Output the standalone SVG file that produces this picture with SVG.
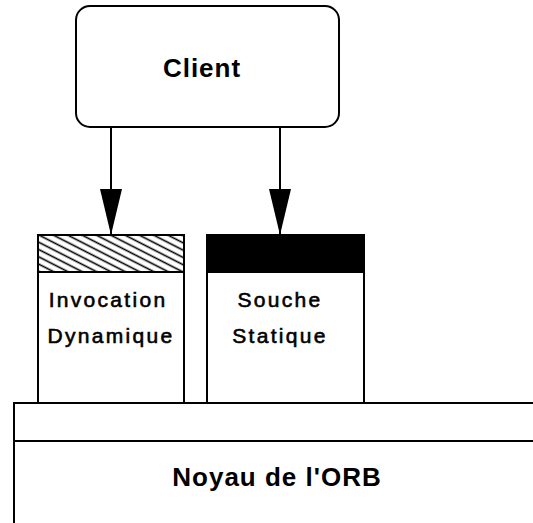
<svg xmlns="http://www.w3.org/2000/svg" width="533" height="523" viewBox="0 0 533 523">
  <style>
    .box { fill: #fff; stroke: #000; stroke-width: 2; }
    .lbl { font-family: "Liberation Sans", Arial, sans-serif; font-size: 21px; fill: #000; stroke: #000; stroke-width: 0.6px; text-anchor: middle; letter-spacing: 2.3px; }
    .title { font-family: "Liberation Sans", Arial, sans-serif; font-size: 26px; font-weight: bold; fill: #000; text-anchor: middle; letter-spacing: 1px; }
    .wire { stroke: #000; stroke-width: 2; fill: none; }
  </style>
  <defs>
    <!-- diagonal hatching for the dynamic invocation band -->
    <pattern id="hatch" patternUnits="userSpaceOnUse" width="20" height="6.5" patternTransform="rotate(27)">
      <line x1="0" y1="3.25" x2="20" y2="3.25" stroke="#000" stroke-width="1.6"/>
    </pattern>
    <marker id="arrow" markerUnits="userSpaceOnUse" markerWidth="48" markerHeight="24" refX="46" refY="12" orient="auto" viewBox="0 0 48 24">
      <path d="M0 1 L46 12 L0 23 Z" fill="#000"/>
    </marker>
  </defs>
  <rect width="533" height="523" fill="#fff"/>

  <g id="orb">
    <rect class="box" x="14" y="403" width="530" height="130"/>
    <line class="wire" x1="14" y1="441" x2="533" y2="441"/>
    <text class="title" x="277" y="486">Noyau de l'ORB</text>
  </g>

  <g id="invocation">
    <rect class="box" x="38" y="235" width="146" height="168"/>
    <rect x="38" y="235" width="146" height="37" fill="url(#hatch)" stroke="#000" stroke-width="2"/>
    <text class="lbl" x="108" y="307">Invocation</text>
    <text class="lbl" x="111" y="343">Dynamique</text>
  </g>

  <g id="souche">
    <rect class="box" x="207" y="235" width="157" height="168"/>
    <rect x="207" y="235" width="157" height="37" fill="#000" stroke="#000" stroke-width="2"/>
    <text class="lbl" x="280" y="307">Souche</text>
    <text class="lbl" x="280" y="343">Statique</text>
  </g>

  <g id="client">
    <rect class="box" x="76" y="6" width="263" height="121" rx="14" ry="14"/>
    <text class="title" x="202" y="77">Client</text>
  </g>

  <g id="connectors">
    <line class="wire" x1="111" y1="127" x2="111" y2="235" marker-end="url(#arrow)"/>
    <line class="wire" x1="280" y1="127" x2="280" y2="235" marker-end="url(#arrow)"/>
  </g>
</svg>
